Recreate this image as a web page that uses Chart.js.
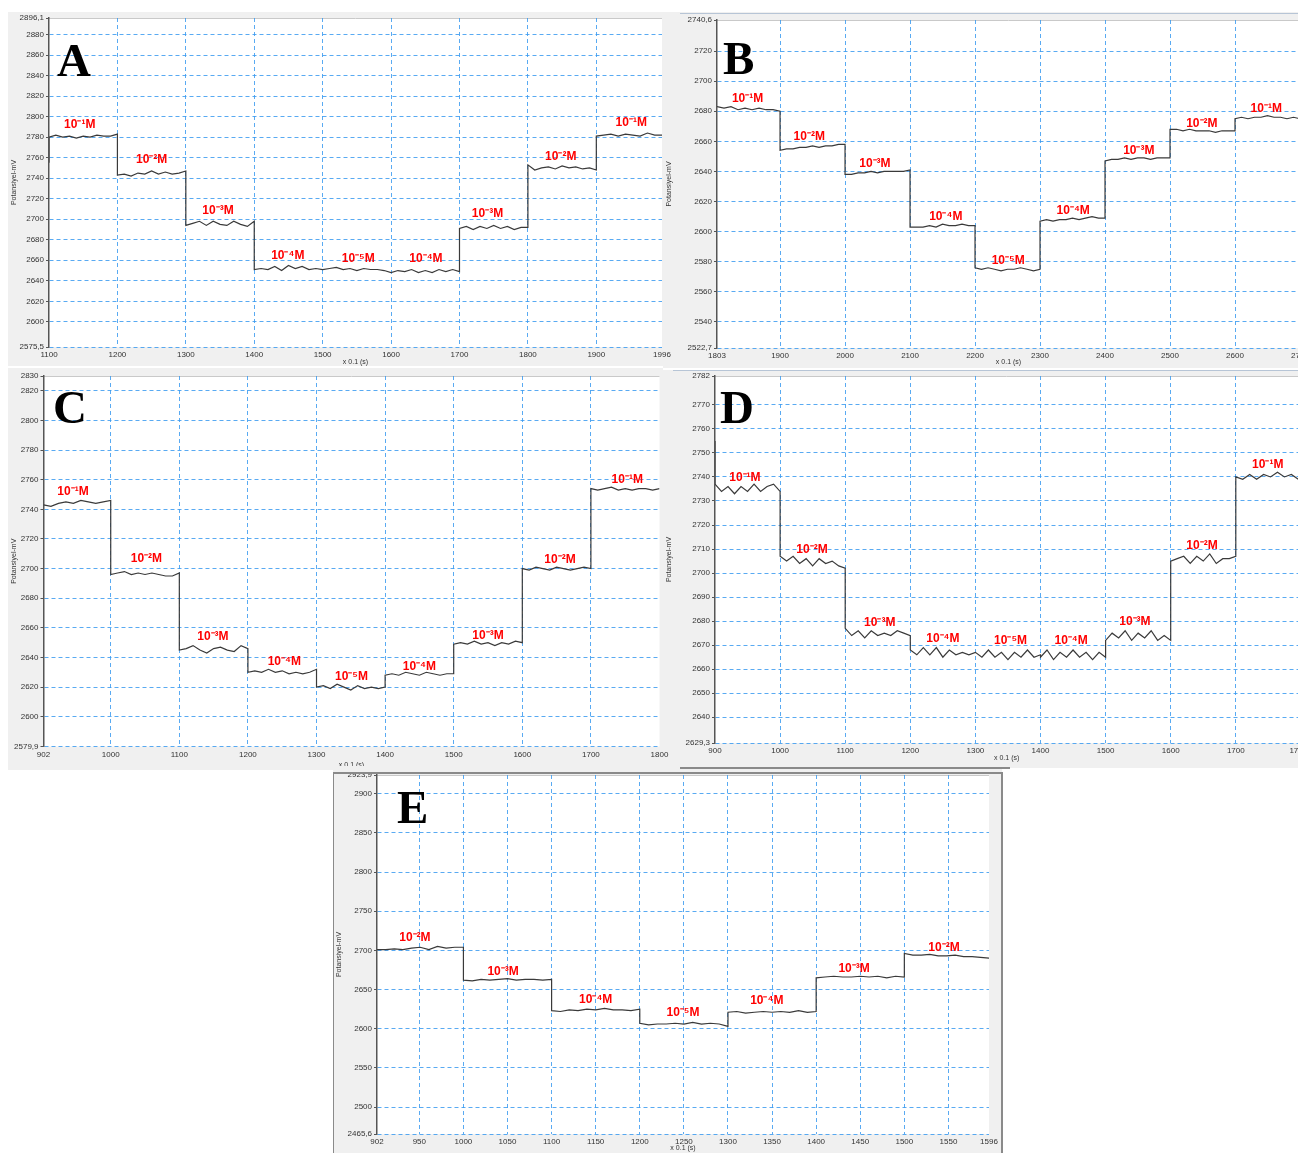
<!DOCTYPE html>
<html>
<head>
<meta charset="utf-8">
<script src="https://cdn.jsdelivr.net/npm/chart.js@4.4.0/dist/chart.umd.min.js"></script>
<style>
body{margin:0;background:#fff;}
#page{position:relative;width:1298px;height:1153px;overflow:hidden;background:#fff;}
.frame{position:absolute;background:#f0f0f0;}
.frame canvas{position:absolute;left:0;top:0;}
.line{position:absolute;}
</style>
</head>
<body>
<div id="page">
  <div class="frame" style="left:663px;top:12px;width:635px;height:356px;overflow:hidden;"><canvas id="cB" width="660" height="356"></canvas></div>
  <div class="frame" style="left:663px;top:370px;width:635px;height:398px;overflow:hidden;"><canvas id="cD" width="660" height="398"></canvas></div>
  <div class="frame" style="left:8px;top:12px;width:655px;height:354px;z-index:2;"><canvas id="cA" width="668" height="354"></canvas></div>
  <div class="frame" style="left:8px;top:368px;width:655px;height:402px;z-index:2;"><canvas id="cC" width="668" height="402"></canvas></div>
  <div class="frame" style="left:333px;top:766px;width:669px;height:387px;z-index:3;"><canvas id="cE" width="669" height="387"></canvas></div>
  <div class="line" style="left:680px;top:13px;width:618px;height:1px;background:#b7c5d6;"></div>
  <div class="line" style="left:673px;top:370px;width:625px;height:1px;background:#b7c5d6;"></div>
  <div class="line" style="left:680px;top:767px;width:330px;height:2px;background:#8a8a8a;z-index:4;"></div>
  <div class="line" style="left:333px;top:772px;width:669px;height:2px;background:#8a8a8a;z-index:4;"></div>
  <div class="line" style="left:333px;top:772px;width:1px;height:381px;background:#8a8a8a;z-index:4;"></div>
  <div class="line" style="left:1001px;top:772px;width:2px;height:381px;background:#8a8a8a;z-index:4;"></div>
</div>
<script>
// potential traces, x in 0.1 s, y in mV
// each panel: step edges + readings taken along each step

// ---- A ----
var aEdges = [1100, 1100, 1200, 1300, 1400, 1500, 1600, 1700, 1800, 1900, 1996];
var aReadings = [
  [2755, 2780],
  [2780, 2782, 2780, 2781, 2779, 2781, 2780, 2782, 2781, 2781, 2783],
  [2743, 2744, 2742, 2745, 2744, 2747, 2744, 2746, 2744, 2745, 2747],
  [2694, 2696, 2698, 2694, 2698, 2695, 2694, 2698, 2695, 2693, 2698],
  [2651, 2652, 2651, 2654, 2650, 2655, 2652, 2654, 2651, 2652, 2651],
  [2651, 2652, 2653, 2651, 2652, 2650, 2652, 2651, 2651, 2650, 2648],
  [2648, 2650, 2649, 2651, 2648, 2650, 2648, 2651, 2649, 2651, 2649],
  [2691, 2693, 2690, 2693, 2691, 2694, 2691, 2693, 2690, 2692, 2692],
  [2753, 2748, 2750, 2751, 2749, 2752, 2750, 2751, 2749, 2750, 2748],
  [2781, 2782, 2783, 2781, 2783, 2782, 2781, 2784, 2782, 2782]
];
var aXTicks = [1100, 1200, 1300, 1400, 1500, 1600, 1700, 1800, 1900, 1996];
var aYTicks = [2575.5, 2600, 2620, 2640, 2660, 2680, 2700, 2720, 2740, 2760, 2780, 2800, 2820, 2840, 2860, 2880, 2896.1];
var aNoteText = ["10⁻¹M", "10⁻²M", "10⁻³M", "10⁻⁴M", "10⁻⁵M", "10⁻⁴M", "10⁻³M", "10⁻²M", "10⁻¹M"];
var aNoteX = [1145, 1250, 1347, 1449, 1552, 1651, 1741, 1848, 1951];
var aNoteY = [2792, 2758, 2708, 2664, 2662, 2662, 2705, 2761, 2794];

// ---- B ----
var bEdges = [1803, 1900, 2000, 2100, 2200, 2300, 2400, 2500, 2600, 2700];
var bReadings = [
  [2683, 2682, 2683, 2681, 2682, 2681, 2682, 2681, 2681, 2680],
  [2654, 2655, 2655, 2656, 2656, 2657, 2656, 2657, 2657, 2658, 2658],
  [2638, 2638, 2639, 2639, 2640, 2639, 2640, 2640, 2640, 2640, 2641],
  [2603, 2603, 2603, 2604, 2603, 2605, 2604, 2604, 2605, 2604, 2604],
  [2576, 2575, 2576, 2575, 2574, 2575, 2575, 2576, 2575, 2574, 2575],
  [2607, 2608, 2607, 2608, 2608, 2609, 2608, 2609, 2610, 2609, 2609],
  [2647, 2648, 2648, 2649, 2648, 2649, 2649, 2648, 2649, 2649, 2649],
  [2668, 2668, 2667, 2668, 2667, 2667, 2667, 2666, 2667, 2667, 2667],
  [2675, 2676, 2675, 2676, 2676, 2677, 2676, 2676, 2675, 2676, 2675]
];
var bXTicks = [1803, 1900, 2000, 2100, 2200, 2300, 2400, 2500, 2600, 2700];
var bYTicks = [2522.7, 2540, 2560, 2580, 2600, 2620, 2640, 2660, 2680, 2700, 2720, 2740.6];
var bNoteText = ["10⁻¹M", "10⁻²M", "10⁻³M", "10⁻⁴M", "10⁻⁵M", "10⁻⁴M", "10⁻³M", "10⁻²M", "10⁻¹M"];
var bNoteX = [1850, 1945, 2046, 2155, 2251, 2351, 2452, 2549, 2648];
var bNoteY = [2688, 2663, 2645, 2610, 2581, 2614, 2654, 2672, 2682];

// ---- C ----
var cEdges = [902, 1000, 1100, 1200, 1300, 1400, 1500, 1600, 1700, 1800];
var cReadings = [
  [2743, 2742, 2744, 2745, 2744, 2746, 2745, 2744, 2745, 2746],
  [2696, 2697, 2698, 2696, 2697, 2696, 2697, 2696, 2695, 2695, 2697],
  [2645, 2646, 2648, 2645, 2643, 2646, 2647, 2645, 2644, 2648, 2646],
  [2630, 2631, 2630, 2632, 2630, 2631, 2629, 2630, 2629, 2630, 2632],
  [2620, 2621, 2619, 2622, 2620, 2618, 2621, 2619, 2620, 2619, 2620],
  [2628, 2629, 2628, 2630, 2629, 2628, 2630, 2629, 2628, 2629, 2629],
  [2649, 2650, 2649, 2651, 2649, 2650, 2648, 2650, 2649, 2651, 2650],
  [2700, 2699, 2701, 2700, 2699, 2701, 2700, 2699, 2700, 2701, 2700],
  [2754, 2753, 2754, 2755, 2753, 2754, 2753, 2754, 2754, 2753, 2754]
];
var cXTicks = [902, 1000, 1100, 1200, 1300, 1400, 1500, 1600, 1700, 1800];
var cYTicks = [2579.9, 2600, 2620, 2640, 2660, 2680, 2700, 2720, 2740, 2760, 2780, 2800, 2820, 2830];
var cNoteText = ["10⁻¹M", "10⁻²M", "10⁻³M", "10⁻⁴M", "10⁻⁵M", "10⁻⁴M", "10⁻³M", "10⁻²M", "10⁻¹M"];
var cNoteX = [945, 1052, 1149, 1253, 1351, 1450, 1550, 1655, 1753];
var cNoteY = [2752, 2707, 2654, 2637, 2627, 2634, 2655, 2706, 2760];

// ---- D ----
var dEdges = [900, 900, 1000, 1100, 1200, 1300, 1400, 1500, 1600, 1700, 1796];
var dReadings = [
  [2755, 2737],
  [2737, 2734, 2736, 2733, 2736, 2734, 2737, 2734, 2736, 2737, 2734],
  [2707, 2705, 2707, 2704, 2706, 2703, 2706, 2704, 2705, 2703, 2702],
  [2677, 2674, 2676, 2673, 2676, 2674, 2675, 2674, 2676, 2675, 2674],
  [2668, 2666, 2669, 2666, 2669, 2665, 2668, 2666, 2667, 2666, 2667],
  [2667, 2665, 2668, 2665, 2667, 2664, 2667, 2665, 2668, 2665, 2666],
  [2665, 2668, 2664, 2667, 2665, 2668, 2665, 2667, 2664, 2667, 2665],
  [2672, 2675, 2673, 2676, 2672, 2675, 2673, 2676, 2672, 2674, 2672],
  [2705, 2706, 2707, 2704, 2707, 2705, 2708, 2704, 2706, 2706, 2707],
  [2740, 2739, 2741, 2739, 2741, 2740, 2742, 2740, 2741, 2739]
];
var dXTicks = [900, 1000, 1100, 1200, 1300, 1400, 1500, 1600, 1700, 1796];
var dYTicks = [2629.3, 2640, 2650, 2660, 2670, 2680, 2690, 2700, 2710, 2720, 2730, 2740, 2750, 2760, 2770, 2782];
var dNoteText = ["10⁻¹M", "10⁻²M", "10⁻³M", "10⁻⁴M", "10⁻⁵M", "10⁻⁴M", "10⁻³M", "10⁻²M", "10⁻¹M"];
var dNoteX = [946, 1049, 1153, 1250, 1354, 1447, 1545, 1648, 1749];
var dNoteY = [2739.5, 2709.6, 2679.5, 2672.5, 2671.7, 2672, 2679.7, 2711.4, 2745.3];

// ---- E ----
var eEdges = [902, 1000, 1100, 1200, 1300, 1400, 1500, 1596];
var eReadings = [
  [2701, 2701, 2702, 2701, 2703, 2704, 2701, 2705, 2703, 2704, 2704],
  [2662, 2661, 2663, 2662, 2663, 2664, 2662, 2663, 2663, 2662, 2663],
  [2623, 2622, 2624, 2623, 2625, 2624, 2626, 2624, 2624, 2623, 2625],
  [2607, 2605, 2606, 2606, 2607, 2606, 2608, 2606, 2607, 2606, 2603],
  [2621, 2622, 2620, 2621, 2622, 2621, 2622, 2621, 2623, 2621, 2622],
  [2665, 2666, 2667, 2666, 2666, 2667, 2666, 2667, 2665, 2667, 2666],
  [2696, 2694, 2694, 2695, 2693, 2693, 2694, 2692, 2692, 2691, 2690]
];
var eXTicks = [902, 950, 1000, 1050, 1100, 1150, 1200, 1250, 1300, 1350, 1400, 1450, 1500, 1550, 1596];
var eYTicks = [2465.6, 2500, 2550, 2600, 2650, 2700, 2750, 2800, 2850, 2900, 2923.9];
var eNoteText = ["10⁻²M", "10⁻³M", "10⁻⁴M", "10⁻⁵M", "10⁻⁴M", "10⁻³M", "10⁻²M"];
var eNoteX = [945, 1045, 1150, 1249, 1344, 1443, 1545];
var eNoteY = [2716, 2673, 2637, 2620, 2636, 2677, 2704];

var gridBlue = "rgba(60,155,240,0.85)";
var tickFont = {family: "'Liberation Sans', Arial, sans-serif", size: 8};

function trace(edges, readings){
	var pts = [];
	readings.forEach(function(vals, i){
		var t0 = edges[i], t1 = edges[i+1];
		vals.forEach(function(v, j){
			pts.push({x: t0 + (t1 - t0) * j / (vals.length - 1), y: v});
		});
	});
	return pts;
}

function comma(v){
	return String(v).replace(".", ",");
}

// white plot area, red labels, panel letter
var notesPlugin = {
	id: "notes",
	beforeDraw: function(chart){
		var a = chart.chartArea, ctx = chart.ctx;
		ctx.save();
		ctx.fillStyle = "#fff";
		ctx.fillRect(a.left, a.top, a.right - a.left, a.bottom - a.top);
		ctx.strokeStyle = "#c9c9c9";
		ctx.lineWidth = 1;
		ctx.beginPath();
		ctx.moveTo(a.left, a.top + 0.5);
		ctx.lineTo(a.right, a.top + 0.5);
		ctx.stroke();
		ctx.restore();
	},
	afterDatasetsDraw: function(chart, args, opts){
		var ctx = chart.ctx, x = chart.scales.x, y = chart.scales.y, a = chart.chartArea;
		ctx.save();
		ctx.font = "bold 12px 'Liberation Sans', Arial, sans-serif";
		ctx.fillStyle = "#ff0000";
		ctx.textAlign = "center";
		ctx.textBaseline = "middle";
		opts.texts.forEach(function(t, i){
			ctx.fillText(t, x.getPixelForValue(opts.xs[i]), y.getPixelForValue(opts.ys[i]));
		});
		ctx.font = "bold 47px 'Liberation Serif', 'Times New Roman', serif";
		ctx.fillStyle = "#000";
		ctx.textAlign = "left";
		ctx.textBaseline = "alphabetic";
		ctx.fillText(opts.letter, a.left + opts.dx, a.top + opts.dy);
		ctx.restore();
	}
};

function panel(id, letter, edges, readings, xTicks, yTicks, texts, xs, ys, box){
	var xLast = xTicks.length - 1, yLast = yTicks.length - 1;
	new Chart(document.getElementById(id), {
		type: "line",
		data: {
			datasets: [{
				data: trace(edges, readings),
				borderColor: "#3a3a3a",
				borderWidth: 1.2,
				pointRadius: 0,
				tension: 0,
				fill: false
			}]
		},
		options: {
			responsive: false,
			animation: false,
			devicePixelRatio: 1,
			layout: {padding: {top: box.top, right: box.right, left: 0, bottom: 0}},
			plugins: {
				legend: {display: false},
				tooltip: {enabled: false},
				notes: {texts: texts, xs: xs, ys: ys, letter: letter, dx: box.dx, dy: box.dy}
			},
			scales: {
				x: {
					type: "linear",
					min: xTicks[0],
					max: xTicks[xLast],
					afterBuildTicks: function(s){ s.ticks = xTicks.map(function(v){ return {value: v}; }); },
					afterFit: function(s){ s.height = box.xh; s.paddingLeft = 0; s.paddingRight = 0; },
					ticks: {autoSkip: false, maxRotation: 0, font: tickFont, color: "#333", padding: 3, callback: comma},
					grid: {
						color: function(c){ return (c.index === 0 || c.index === xLast) ? "rgba(0,0,0,0)" : gridBlue; },
						lineWidth: 1,
						drawTicks: false
					},
					border: {display: false, dash: [4, 3]},
					title: {display: true, text: "x 0.1 (s)", font: {family: tickFont.family, size: 7}, color: "#333", padding: {top: 0, bottom: box.tb}}
				},
				y: {
					type: "linear",
					min: yTicks[0],
					max: yTicks[yLast],
					afterBuildTicks: function(s){ s.ticks = yTicks.map(function(v){ return {value: v}; }); },
					afterFit: function(s){ s.width = box.yw; s.paddingTop = 0; s.paddingBottom = 0; },
					ticks: {autoSkip: false, font: tickFont, color: "#333", padding: 2, callback: comma},
					grid: {
						color: function(c){ return c.index === yLast ? "rgba(0,0,0,0)" : gridBlue; },
						lineWidth: 1,
						drawTicks: true,
						tickLength: 3,
						tickColor: "#555"
					},
					border: {display: true, color: "#555", width: 1.5, dash: [4, 3]},
					title: {display: true, text: "Potansiyel-mV", font: {family: tickFont.family, size: 7}, color: "#333", padding: {top: 2, bottom: 0}}
				}
			}
		},
		plugins: [notesPlugin]
	});
}

document.addEventListener("DOMContentLoaded", function(){
	panel("cA", "A", aEdges, aReadings, aXTicks, aYTicks, aNoteText, aNoteX, aNoteY,
		{yw: 41, xh: 19, top: 6, right: 14, dx: 8, dy: 58, tb: 0});
	panel("cB", "B", bEdges, bReadings, bXTicks, bYTicks, bNoteText, bNoteX, bNoteY,
		{yw: 54, xh: 20, top: 8, right: 23, dx: 6, dy: 54, tb: 2});
	panel("cC", "C", cEdges, cReadings, cXTicks, cYTicks, cNoteText, cNoteX, cNoteY,
		{yw: 35.5, xh: 23.5, top: 8, right: 16.5, dx: 9.5, dy: 47, tb: 1});
	panel("cD", "D", dEdges, dReadings, dXTicks, dYTicks, dNoteText, dNoteX, dNoteY,
		{yw: 52, xh: 25, top: 6, right: 24.7, dx: 5, dy: 47, tb: 6});
	panel("cE", "E", eEdges, eReadings, eXTicks, eYTicks, eNoteText, eNoteX, eNoteY,
		{yw: 44, xh: 19, top: 9, right: 13, dx: 20, dy: 48, tb: 1});
});
</script>
</body>
</html>
